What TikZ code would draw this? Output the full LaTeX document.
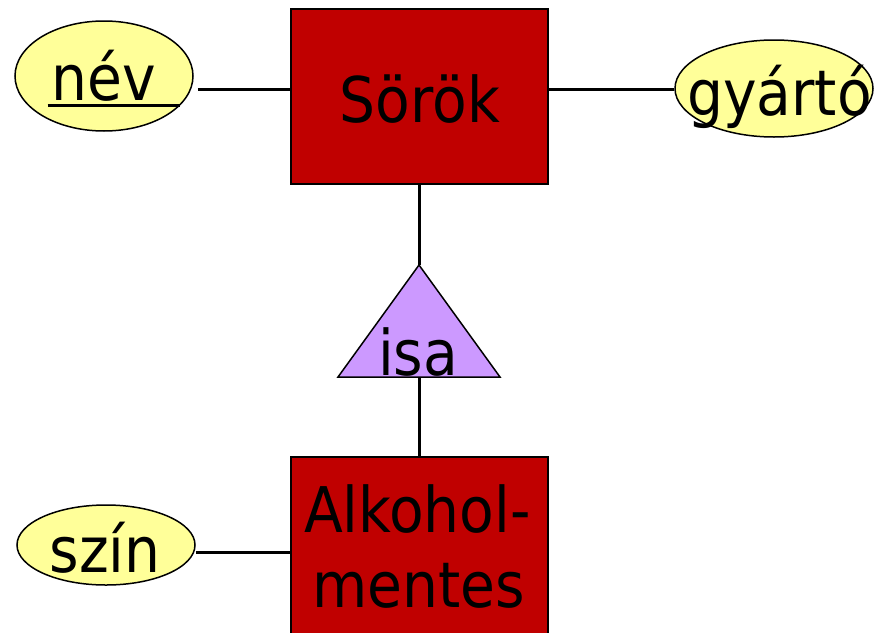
\documentclass[tikz,border=0pt]{standalone}
\usepackage{fontspec}
\setmainfont{DejaVu Sans Condensed}
\usetikzlibrary{shapes.geometric,calc}
\definecolor{entred}{HTML}{C00000}
\definecolor{attryel}{HTML}{FFFF99}
\definecolor{isalav}{HTML}{CC99FF}
\tikzset{
  entity/.style={draw=black,line width=2.2pt,fill=entred,rectangle,inner sep=0pt},
  attr/.style={draw=black,line width=1.5pt,fill=attryel,ellipse,inner sep=0pt},
  lbl/.style={anchor=base,inner sep=0pt,font=\fontsize{63}{75}\selectfont},
  conn/.style={line width=3pt}
}
\begin{document}
\begin{tikzpicture}[x=1pt,y=-1pt]
\useasboundingbox (0,0) rectangle (874,632);
\begin{scope}
\clip (0,0) rectangle (874,632);
% entities
\node[entity,minimum width=257pt,minimum height=175pt] (sorok) at (419.5,96.5) {};
\node[entity,minimum width=257pt,minimum height=200pt] (alk) at (419.5,557) {};
% attributes
\node[attr,minimum width=178pt,minimum height=110pt] (nev) at (104,76) {};
\node[attr,minimum width=198pt,minimum height=97pt] (gyarto) at (774,88.5) {};
\node[attr,minimum width=178pt,minimum height=80pt] (szin) at (106,545) {};
% isa triangle
\coordinate (isatop) at (419,265);
\coordinate (isabl) at (338,377);
\coordinate (isabr) at (500,377);
\coordinate (isabot) at (419,377);
\draw[line width=1.5pt,fill=isalav,line join=miter] (isatop) -- (isabr) -- (isabl) -- cycle;
% connector helper coordinates
\coordinate (nevrow) at (0,89);
\coordinate (szinrow) at (0,552);
% connectors
\draw[conn] (nev.east |- nevrow) ++(4,0) -- (sorok.west |- nevrow);
\draw[conn] (sorok.east |- nevrow) -- (gyarto.west |- nevrow);
\draw[conn] (sorok.south -| isatop) -- (isatop);
\draw[conn] (isabot) -- (alk.north -| isabot);
\draw[conn] (szin.east |- szinrow) -- (alk.west |- szinrow);
% labels
\node[lbl] (nevt) at (104,100) {név};
\draw[line width=3pt] ($(nevt.base west)+(-4,5)$) -- ($(nevt.base east)+(24,5)$);
\node[lbl] (gyartot) at (779.5,115) {gyártó};
\node[lbl] (sorokt) at (420,122) {Sörök};
\node[lbl] (isat) at (418,375) {isa};
\node[lbl] (alkt1) at (417.5,532) {Alkohol-};
\node[lbl] (alkt2) at (419,607) {mentes};
\node[lbl] (szint) at (105,572) {szín};
\end{scope}
\end{tikzpicture}
\end{document}
